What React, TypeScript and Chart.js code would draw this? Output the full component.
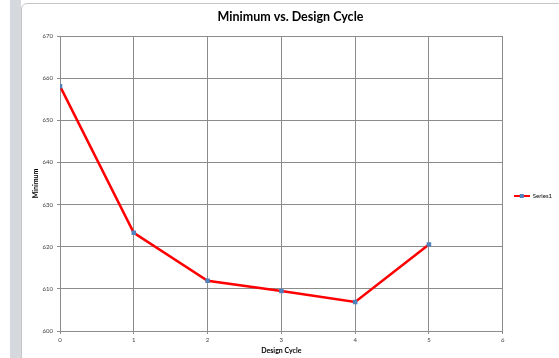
import React, { useEffect, useRef } from "react";
import { Chart, registerables } from "chart.js";

Chart.register(...registerables);

// Design cycle numbers and the minimum reached in each cycle
const designCycles = [0, 1, 2, 3, 4, 5];
const minimumValues = [658.1, 623.3, 611.9, 609.5, 606.9, 620.5];
const seriesName = "Series1";

// Axis ranges and tick spacing
const xTicks = [0, 1, 2, 3, 4, 5, 6];
const yTicks = [600, 610, 620, 630, 640, 650, 660, 670];

const chartTitle = "Minimum vs. Design Cycle";
const xTitle = "Design Cycle";
const yTitle = "Minimum";

const FONT = "Lato, 'Open Sans', 'DejaVu Sans', sans-serif";
const GRID = "#8c8c8c";
const TEXT = "#404040";
const LINE = "#ff0000";
const MARKER = "#4f81bd";

function makeLegendIcon(): HTMLCanvasElement {
  const c = document.createElement("canvas");
  c.width = 16;
  c.height = 6;
  const g = c.getContext("2d")!;
  g.strokeStyle = LINE;
  g.lineWidth = 2;
  g.beginPath();
  g.moveTo(0, 3);
  g.lineTo(16, 3);
  g.stroke();
  g.fillStyle = MARKER;
  g.fillRect(6, 1, 4, 4);
  return c;
}

// Moves the legend block a little below the vertical middle of its column
const legendShift = {
  id: "legendShift",
  afterLayout(chart: any) {
    const lg = chart.legend;
    if (!lg) return;
    lg.top += 16;
    lg.bottom += 16;
    lg.left += 3;
    lg.right += 3;
  },
};

export default function App() {
  const ref = useRef<HTMLCanvasElement>(null);

  useEffect(() => {
    const canvas = ref.current;
    if (!canvas) return;
    const icon = makeLegendIcon();

    const chart = new Chart(canvas, {
      type: "scatter",
      data: {
        datasets: [
          {
            label: seriesName,
            data: designCycles.map((x, i) => ({ x, y: minimumValues[i] })),
            showLine: true,
            borderColor: LINE,
            borderWidth: 2.5,
            backgroundColor: MARKER,
            pointBackgroundColor: MARKER,
            pointBorderColor: MARKER,
            pointBorderWidth: 0,
            pointStyle: "rect",
            pointRadius: 3.2,
            tension: 0,
          },
        ],
      },
      options: {
        responsive: false,
        animation: false,
        devicePixelRatio: 1,
        layout: { padding: { left: 22, top: 4, right: 0, bottom: 2 } },
        plugins: {
          tooltip: { enabled: false },
          title: {
            display: true,
            text: chartTitle,
            color: "#000000",
            font: { family: FONT, size: 12.5, weight: "bold" },
            padding: { top: 5.5, bottom: 11.5 },
          },
          legend: {
            display: true,
            position: "right",
            labels: {
              usePointStyle: true,
              pointStyleWidth: 16,
              color: TEXT,
              font: { family: FONT, size: 6 },
              padding: 8,
              generateLabels: () => [
                {
                  text: seriesName,
                  pointStyle: icon,
                  fillStyle: MARKER,
                  strokeStyle: LINE,
                  lineWidth: 0,
                  hidden: false,
                  datasetIndex: 0,
                },
              ],
            },
          },
        },
        scales: {
          x: {
            type: "linear",
            min: xTicks[0],
            max: xTicks[xTicks.length - 1],
            afterBuildTicks: (s: any) => {
              s.ticks = xTicks.map((v) => ({ value: v }));
            },
            afterFit: (s: any) => {
              s.height = 25;
            },
            ticks: {
              color: TEXT,
              font: { family: FONT, size: 6 },
              padding: 2.5,
              maxRotation: 0,
            },
            grid: { color: GRID, lineWidth: 1, tickLength: 3 },
            border: { color: GRID, width: 1 },
            title: {
              display: true,
              text: xTitle,
              color: "#000000",
              font: { family: FONT, size: 7, weight: "bold" },
              padding: { top: 0, bottom: 1 },
            },
          },
          y: {
            type: "linear",
            min: yTicks[0],
            max: yTicks[yTicks.length - 1],
            afterBuildTicks: (s: any) => {
              s.ticks = yTicks.map((v) => ({ value: v }));
            },
            afterFit: (s: any) => {
              s.width = 38;
            },
            ticks: {
              color: TEXT,
              font: { family: FONT, size: 6 },
              padding: 4,
            },
            grid: { color: GRID, lineWidth: 1, tickLength: 3 },
            border: { color: GRID, width: 1 },
            title: {
              display: true,
              text: yTitle,
              color: "#000000",
              font: { family: FONT, size: 7, weight: "bold" },
              padding: { top: 9.8, bottom: 0 },
            },
          },
        },
      },
      plugins: [legendShift],
    } as any);

    return () => chart.destroy();
  }, []);

  return (
    <div
      style={{
        position: "fixed",
        left: 0,
        top: 0,
        width: 559,
        height: 358,
        overflow: "hidden",
        background: "#ffffff",
      }}
    >
      <div
        style={{
          position: "absolute",
          left: 10,
          top: 0,
          width: 11,
          height: 358,
          background: "#d5d8dd",
        }}
      />
      <div
        style={{
          position: "absolute",
          left: 21,
          top: 3,
          width: 560,
          height: 380,
          border: "1px solid #c6c6c6",
          borderRadius: 6,
          background: "#ffffff",
          boxSizing: "border-box",
        }}
      />
      <canvas
        ref={ref}
        width={559}
        height={358}
        style={{ position: "absolute", left: 0, top: 0, display: "block" }}
      />
    </div>
  );
}
